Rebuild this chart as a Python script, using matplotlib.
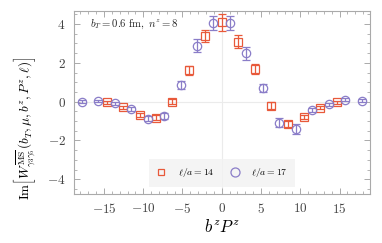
import matplotlib
matplotlib.use("Agg")
import matplotlib.pyplot as plt
from matplotlib.ticker import MultipleLocator
from matplotlib.lines import Line2D

plt.rcParams['mathtext.fontset'] = 'cm'
plt.rcParams['font.family'] = ['DejaVu Serif']

# l/a = 14 (orange squares)
x14 = [-14.66, -12.57, -10.47, -8.38, -6.28, -4.19, -2.09, 0.0, 2.09, 4.19, 6.28, 8.38, 10.47, 12.57, 14.66]
y14 = [-0.03, -0.29, -0.69, -0.82, 0.0, 1.62, 3.39, 4.09, 3.09, 1.69, -0.20, -1.15, -0.77, -0.31, -0.03]
e14 = [0.08, 0.09, 0.10, 0.12, 0.14, 0.22, 0.30, 0.45, 0.33, 0.25, 0.17, 0.13, 0.10, 0.09, 0.08]

# l/a = 17 (purple circles)
x17 = [-17.80, -15.71, -13.61, -11.52, -9.42, -7.33, -5.24, -3.14, -1.05, 1.05, 3.14, 5.24, 7.33, 9.42, 11.52, 13.61, 15.71, 17.80]
y17 = [0.0, 0.04, -0.08, -0.38, -0.89, -0.72, 0.86, 2.89, 4.04, 4.07, 2.49, 0.69, -1.08, -1.42, -0.43, -0.14, 0.09, 0.04]
e17 = [0.07, 0.07, 0.08, 0.10, 0.13, 0.16, 0.19, 0.32, 0.36, 0.36, 0.34, 0.20, 0.23, 0.26, 0.11, 0.09, 0.08, 0.08]

labels = [r'$\ell/a = 14$', r'$\ell/a = 17$']

c14 = '#E8593A'
c17 = '#8A7DC8'
gray = '#AAAAAA'

fig = plt.figure(figsize=(3.82, 2.43), dpi=100)
ax = fig.add_axes([0.194, 0.2016, 0.775, 0.7544])

ax.axhline(0, color='#EBEBEB', lw=0.8, zorder=0)
ax.axvline(0, color='#EBEBEB', lw=0.8, zorder=0)

ax.errorbar(x14, y14, yerr=e14, fmt='s', ms=5.3, mfc='none', mec=c14, ecolor=c14,
            mew=0.9, elinewidth=0.9, capsize=2.8, capthick=0.9, zorder=3)
ax.errorbar(x17, y17, yerr=e17, fmt='o', ms=6.0, mfc='none', mec=c17, ecolor=c17,
            mew=0.9, elinewidth=0.9, capsize=2.8, capthick=0.9, zorder=3)

ax.set_xlim(-18.8, 18.9)
ax.set_ylim(-4.76, 4.69)
ax.xaxis.set_minor_locator(MultipleLocator(1))
ax.yaxis.set_minor_locator(MultipleLocator(0.5))
for s in ax.spines.values():
    s.set_color(gray)
    s.set_linewidth(0.8)
ax.tick_params(which='both', direction='in', top=True, right=True, colors=gray,
               labelcolor='#444444', labelsize=9.5, pad=6)
ax.tick_params(which='major', length=4, width=0.7)
ax.tick_params(which='minor', length=2, width=0.6)
ax.set_xticks([-15, -10, -5, 0, 5, 10, 15])
ax.set_xticklabels([r'$-15$', r'$-10$', r'$-5$', r'$0$', r'$5$', r'$10$', r'$15$'])
ax.set_yticks([-4, -2, 0, 2, 4])
ax.set_yticklabels([r'$-4$', r'$-2$', r'$0$', r'$2$', r'$4$'])

ax.text(0.054, 0.927, r'$b_T = 0.6\ \mathrm{fm},\ n^z = 8$', transform=ax.transAxes,
        fontsize=7.7, va='center', ha='left', color='#222222')

handles = [Line2D([], [], ls='none', marker='s', ms=4.5, mfc='none', mec=c14, mew=0.9),
           Line2D([], [], ls='none', marker='o', ms=6.5, mfc='none', mec=c17, mew=0.9)]
leg = ax.legend(handles, labels, loc='lower center', bbox_to_anchor=(0.5, 0.04), ncol=2,
                frameon=True, fontsize=7, handletextpad=1.2, columnspacing=1.6,
                borderpad=0.75, handlelength=1.0, borderaxespad=0)
leg.get_frame().set_facecolor('#F2F2F2')
leg.get_frame().set_edgecolor('none')
leg.get_frame().set_boxstyle('square', pad=0)

fig.text(0.5 * (74 + 370) / 382, 1 - 228 / 243, r'$b^z P^z$', ha='center', va='center', fontsize=12)
fig.text(25 / 382, 1 - 128 / 243,
         r'$\mathrm{Im}\left[W^{\overline{\mathrm{MS}}}_{\gamma_3\gamma_5}(b_T, \mu, b^z, P^z, \ell)\right]$',
         rotation=90, ha='center', va='center', fontsize=9.5)

fig.savefig('out.png', dpi=100)
